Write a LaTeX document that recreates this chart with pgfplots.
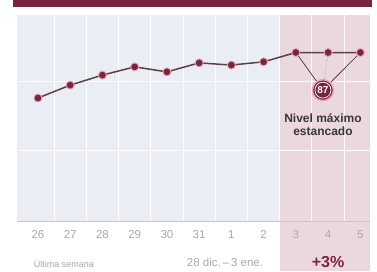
\documentclass[border=0pt]{standalone}
\usepackage{pgfplots}
\pgfplotsset{compat=1.18}
\usepackage{fontspec}
\setmainfont{Liberation Sans}
\definecolor{maroon}{HTML}{7A2440}
\definecolor{bgblue}{HTML}{EAEEF4}
\definecolor{bgpink}{HTML}{EBD8DC}
\definecolor{lineg}{HTML}{5B4047}
\definecolor{halo}{HTML}{E3A6B4}
\definecolor{tickg}{HTML}{A8A8AE}
\begin{document}
\begin{tikzpicture}[x=1pt,y=1pt]
\path[use as bounding box] (0,0) rectangle (377,271);
\fill[white] (0,0) rectangle (377,271);
\fill[maroon] (13,264) rectangle (372,271);
\fill[bgblue] (17,50) rectangle (370,256);
\fill[bgpink] (279.7,0) rectangle (370,256);
\begin{axis}[at={(17pt,50pt)}, anchor=south west, scale only axis,
  width=353pt, height=206pt,
  xmin=-0.65, xmax=10.3, ymin=40, ymax=97.46,
  xtick={0,...,10}, xticklabels={26,27,28,29,30,31,1,2,3,4,5},
  minor xtick={0.5,1.5,...,9.5},
  ytick={59.8,78.8}, yticklabels={},
  xmajorgrids=false, xminorgrids=true, ymajorgrids=true,
  minor grid style={white, line width=1pt},
  major grid style={white, line width=1pt},
  axis line style={draw=none}, tick style={draw=none},
  xticklabel style={font=\fontsize{11.5}{11.5}\selectfont, text=tickg, yshift=-6pt},
  clip=false]
\addplot[lineg, line width=0.8pt] coordinates {(8,87) (8.84,76.5)};
\addplot[lineg!70, line width=0.6pt, dotted] coordinates {(9,87) (8.84,76.5)};
\addplot[lineg, line width=0.8pt] coordinates {(10,87) (8.84,76.5)};
\addplot[lineg, line width=1.5pt, mark=*, mark size=4pt,
  mark options={fill=maroon, draw=halo, line width=0.9pt}]
  coordinates {(0,74.3) (1,77.9) (2,80.7) (3,83.0) (4,81.6) (5,84.1) (6,83.5) (7,84.4) (8,87) (9,87) (10,87)};
\addplot[only marks, mark=*, mark size=10.5pt,
  mark options={fill=maroon, draw=halo, line width=1.5pt},
  nodes near coords={\bfseries 87},
  every node near coord/.style={anchor=center, text=white, font=\fontsize{10}{10}\selectfont}]
  coordinates {(8.84,76.5)};
\addplot[only marks, mark=o, mark size=8pt, mark options={draw=white, line width=0.7pt}]
  coordinates {(8.84,76.5)};
\node[align=center, font=\fontsize{12}{13}\selectfont\bfseries, text=black!78] at (axis cs:8.84,66.8) {Nivel máximo\\estancado};
\end{axis}
\draw[gray!45, line width=0.6pt] (17,50) -- (370,50);
\node[font=\fontsize{9}{9}\selectfont, text=tickg] at (64,7) {Última semana};
\node[font=\fontsize{11.5}{11.5}\selectfont, text=tickg] at (225,9) {28 dic.\,–\,3 ene.};
\node[font=\fontsize{16}{16}\selectfont\bfseries, text=maroon] at (328,9) {+3\%};
\end{tikzpicture}
\end{document}
